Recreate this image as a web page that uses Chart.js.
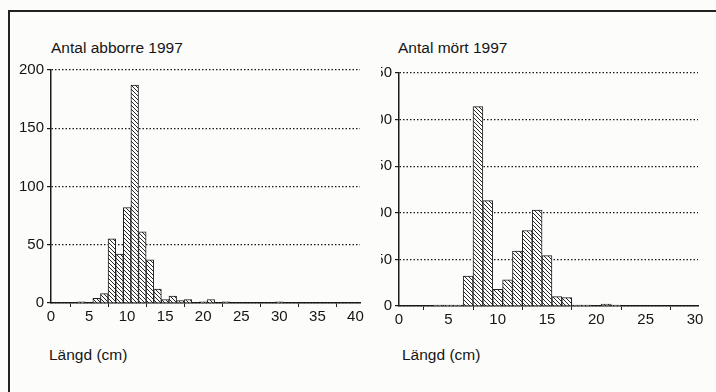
<!DOCTYPE html>
<html>
<head>
<meta charset="utf-8">
<script src="https://cdn.jsdelivr.net/npm/chart.js@4.4.1/dist/chart.umd.min.js"></script>
<style>
  body { margin: 0; width: 716px; height: 392px; overflow: hidden; position: relative;
         background: #fcfcfb; font-family: "Liberation Sans", Arial, sans-serif; color: #151515; }
  .frame { position: absolute; left: 8px; top: 10px; width: 720px; height: 400px;
           border-left: 2px solid #222; border-top: 2px solid #222; }
  .panel { position: absolute; }
  .txt { position: absolute; font-size: 15.5px; line-height: 18px; white-space: nowrap; }
</style>
</head>
<body>
<div class="frame"></div>

<div class="txt" style="left:51px; top:39px;">Antal abborre 1997</div>
<div class="txt" style="left:398px; top:39px;">Antal mört 1997</div>

<div class="panel" style="left:8px; top:58px; width:364px; height:273px;"><canvas id="abborre"></canvas></div>
<div class="panel" style="left:381px; top:61px; width:329px; height:273px;"><canvas id="mort"></canvas></div>

<div class="txt" style="left:49px; top:346px;">Längd (cm)</div>
<div class="txt" style="left:402px; top:346px;">Längd (cm)</div>

<script>
// ── data (count per 1 cm length class) ──
const abborreLengths = [1, 2, 3, 4, 5, 6, 7, 8, 9, 10, 11, 12, 13, 14, 15, 16, 17, 18, 19, 20,
                        21, 22, 23, 24, 25, 26, 27, 28, 29, 30, 31, 32, 33, 34, 35, 36, 37, 38, 39, 40];
const abborreCounts  = [0, 0, 0, 1, 0, 4, 8, 55, 42, 82, 187, 61, 37, 12, 3, 6, 2, 3, 0, 1,
                        3, 0, 1, 0, 0, 0, 0, 0, 0, 1, 0, 0, 0, 0, 0, 0, 0, 0, 0, 0];

const mortLengths = [1, 2, 3, 4, 5, 6, 7, 8, 9, 10, 11, 12, 13, 14, 15, 16, 17, 18, 19, 20,
                     21, 22, 23, 24, 25, 26, 27, 28, 29, 30];
const mortCounts  = [0, 0, 0, 1, 1, 1, 32, 214, 113, 18, 28, 59, 81, 103, 54, 10, 9, 1, 1, 0,
                     2, 1, 0, 0, 0, 0, 0, 0, 0, 0];

const abborreXTicks = [0, 5, 10, 15, 20, 25, 30, 35, 40];
const abborreYTicks = [0, 50, 100, 150, 200];
const mortXTicks = [0, 5, 10, 15, 20, 25, 30];
const mortYTicks = [0, 50, 100, 150, 200, 250];

Chart.defaults.font.family = '"Liberation Sans", Arial, sans-serif';
Chart.defaults.font.size = 15;
Chart.defaults.color = '#151515';

// diagonal hatch fill like the printed bars
function hatchPattern() {
  const tile = document.createElement('canvas');
  tile.width = 4; tile.height = 4;
  const c = tile.getContext('2d');
  c.fillStyle = '#fdfdfd';
  c.fillRect(0, 0, 4, 4);
  c.strokeStyle = '#262626';
  c.lineWidth = 1;
  c.beginPath();
  c.moveTo(0, 0); c.lineTo(4, 4);
  c.moveTo(-1, 3); c.lineTo(1, 5);
  c.moveTo(3, -1); c.lineTo(5, 1);
  c.stroke();
  return c.createPattern(tile, 'repeat');
}

function histogram(id, lengths, counts, xTicks, yTicks, xMax, yWidth) {
  const yMax = yTicks[yTicks.length - 1];
  new Chart(document.getElementById(id), {
    type: 'bar',
    data: {
      labels: lengths,
      datasets: [{
        data: counts,
        backgroundColor: hatchPattern(),
        borderColor: '#1e1e1e',
        borderWidth: 1,
        barPercentage: 1,
        categoryPercentage: 1,
      }],
    },
    options: {
      responsive: true,
      maintainAspectRatio: false,
      animation: false,
      layout: { padding: { top: 12, right: 12, bottom: 0, left: 0 } },
      plugins: { legend: { display: false }, tooltip: { enabled: false } },
      scales: {
        x: {
          type: 'linear',
          min: 0,
          max: xMax,
          offset: false,
          afterBuildTicks: s => { s.ticks = xTicks.map(v => ({ value: v })); },
          afterFit: s => { s.height = 28; },
          grid: { drawOnChartArea: false, drawTicks: true, tickLength: 4, color: '#222' },
          border: { display: true, color: '#1a1a1a', width: 1.5 },
          ticks: { padding: 1, maxRotation: 0, autoSkip: false },
        },
        y: {
          min: 0,
          max: yMax,
          afterBuildTicks: s => { s.ticks = yTicks.map(v => ({ value: v })); },
          afterFit: s => { s.width = yWidth; },
          grid: { color: '#1a1a1a', lineWidth: 1.2, tickLength: 4 },
          border: { display: true, color: '#1a1a1a', width: 1.5, dash: [1.5, 2] },
          ticks: { padding: 3 },
        },
      },
    },
  });
}

histogram('abborre', abborreLengths, abborreCounts, abborreXTicks, abborreYTicks, 40.6, 43);
histogram('mort', mortLengths, mortCounts, mortXTicks, mortYTicks, 30.3, 18);
</script>
</body>
</html>
